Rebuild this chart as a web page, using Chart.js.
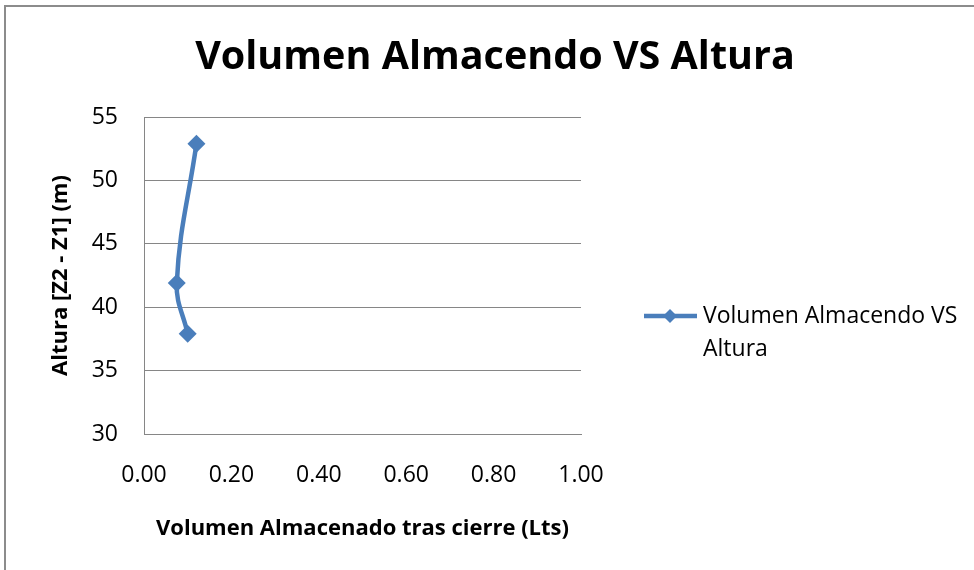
<!DOCTYPE html>
<html lang="es">
  <head>
    <meta charset="UTF-8" />
    <title>Volumen Almacendo VS Altura</title>
    <script src="https://cdn.jsdelivr.net/npm/chart.js"></script>
    <style>
      body { margin: 0; background: #fff; }
      #wrap { position: relative; width: 974px; height: 570px; }
      #frame {
        position: absolute; left: 4px; top: 5px; width: 980px; height: 580px;
        border: 2px solid #8c8c8c; box-sizing: border-box;
      }
    </style>
  </head>
  <body>
    <div id="wrap">
      <div id="frame"></div>
      <canvas id="chart" width="974" height="570"></canvas>
    </div>
    <script>
      // Volumen (Lts) y altura (m) de cada punto medido
      const volumen = [0.12, 0.075, 0.10];
      const altura = [52.9, 41.9, 37.9];
      const serieNombre = "Volumen Almacendo VS Altura";
      const yTicks = [30, 35, 40, 45, 50, 55];
      const xTicks = [0, 0.2, 0.4, 0.6, 0.8, 1.0];

      const FONT = "'Open Sans', sans-serif";
      const lineColor = "#4a7ebb";

      // título centrado sobre todo el gráfico y leyenda a la derecha en dos renglones
      const extras = {
        id: "extras",
        afterDraw(chart) {
          const ctx = chart.ctx;
          ctx.save();
          ctx.fillStyle = "#000";
          ctx.textAlign = "center";
          ctx.textBaseline = "middle";
          ctx.font = "bold 39.5px " + FONT;
          ctx.fillText(serieNombre, 495, 58);

          const x0 = 644, y0 = 316;
          ctx.strokeStyle = lineColor;
          ctx.lineWidth = 4.5;
          ctx.beginPath();
          ctx.moveTo(x0, y0);
          ctx.lineTo(x0 + 53, y0);
          ctx.stroke();
          ctx.fillStyle = lineColor;
          ctx.beginPath();
          const cx = x0 + 26, r = 7;
          ctx.moveTo(cx, y0 - r);
          ctx.lineTo(cx + r, y0);
          ctx.lineTo(cx, y0 + r);
          ctx.lineTo(cx - r, y0);
          ctx.closePath();
          ctx.fill();
          ctx.fillStyle = "#000";
          ctx.textAlign = "left";
          ctx.font = "23px " + FONT;
          ctx.fillText("Volumen Almacendo VS", x0 + 59, y0);
          ctx.fillText("Altura", x0 + 59, y0 + 33);
          ctx.restore();
        },
      };

      new Chart(document.getElementById("chart"), {
        type: "scatter",
        data: {
          datasets: [
            {
              label: serieNombre,
              data: volumen.map((v, i) => ({ x: v, y: altura[i] })),
              showLine: true,
              tension: 0.4,
              borderColor: lineColor,
              backgroundColor: lineColor,
              borderWidth: 4.5,
              pointStyle: "rectRot",
              pointRadius: 9,
              pointBorderWidth: 0,
            },
          ],
        },
        options: {
          responsive: false,
          animation: false,
          layout: { padding: { left: 0, right: 393, top: 117, bottom: 0 } },
          plugins: {
            legend: { display: false },
            tooltip: { enabled: false },
            title: { display: false },
          },
          scales: {
            x: {
              type: "linear",
              min: 0,
              max: 1,
              afterBuildTicks: (s) => { s.ticks = xTicks.map((v) => ({ value: v })); },
              afterFit: (s) => { s.height = 136; },
              grid: { display: false, drawTicks: false },
              border: { color: "#868686", width: 1 },
              ticks: {
                color: "#000",
                padding: 28,
                font: { family: FONT, size: 23 },
                callback: (v) => v.toFixed(2),
              },
              title: {
                display: true,
                text: "Volumen Almacenado tras cierre (Lts)",
                color: "#000",
                font: { family: FONT, size: 22, weight: "bold" },
                padding: { top: 0, bottom: 28 },
              },
            },
            y: {
              min: 30,
              max: 55,
              afterBuildTicks: (s) => { s.ticks = yTicks.map((v) => ({ value: v })); },
              afterFit: (s) => { s.width = 144; },
              grid: { color: "#868686", drawTicks: false },
              border: { color: "#868686", width: 1 },
              ticks: {
                color: "#000",
                padding: 26,
                font: { family: FONT, size: 23 },
              },
              title: {
                display: true,
                text: "Altura [Z2 - Z1] (m)",
                color: "#000",
                font: { family: FONT, size: 22, weight: "bold" },
                padding: { top: 48, bottom: 0 },
              },
            },
          },
        },
        plugins: [extras],
      });
    </script>
  </body>
</html>
